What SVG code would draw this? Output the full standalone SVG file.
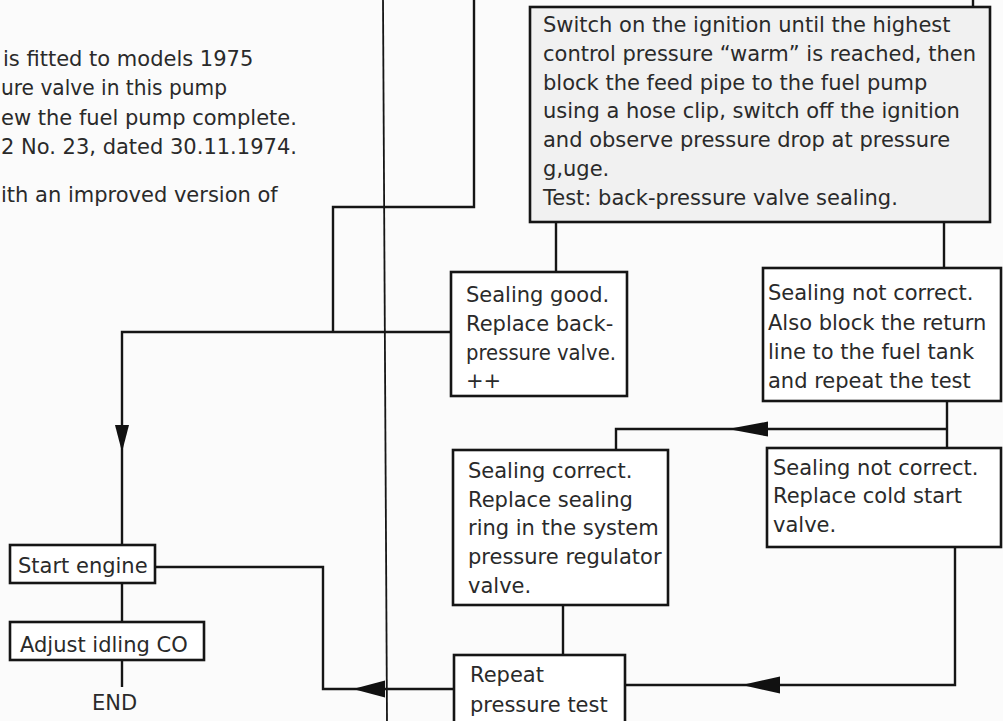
<svg xmlns="http://www.w3.org/2000/svg" width="1003" height="721" viewBox="0 0 1003 721">
<style>
  text { font-family: "DejaVu Sans", "Liberation Sans", sans-serif; font-size: 21px; fill: #2a2a2a; }
  .box { fill: #ffffff; stroke: #151515; stroke-width: 2.6; }
  .big { fill: #f1f1f1; }
  .ln { fill: none; stroke: #151515; stroke-width: 2.4; stroke-linejoin: miter; }
  .thin { fill: none; stroke: #151515; stroke-width: 1.8; }
  .arr { fill: #111111; stroke: none; }
</style>
<rect x="0" y="0" width="1003" height="721" fill="#fbfbfb"/>

<g id="notes">
  <text x="3" y="66">is fitted to models 1975</text>
  <text x="1" y="95" textLength="226" lengthAdjust="spacingAndGlyphs">ure valve in this pump</text>
  <text x="1" y="125">ew the fuel pump complete.</text>
  <text x="1" y="154">2 No. 23, dated 30.11.1974.</text>
  <text x="1" y="202">ith an improved version of</text>
</g>

<g id="connectors">
  <path class="thin" d="M383,0 L387,721"/>
  <path class="ln" d="M474,0 L474,207 L333,207 L333,332"/>
  <path class="ln" d="M122,545 L122,332 L451,332"/>
  <polygon class="arr" points="115,425 129,425 122,452"/>
  <path class="ln" d="M973,0 L973,7"/>
  <path class="ln" d="M556,222 L556,272"/>
  <path class="ln" d="M944,222 L944,268"/>
  <path class="ln" d="M947,401 L947,448"/>
  <path class="ln" d="M947,429 L616,429 L616,450"/>
  <polygon class="arr" points="728,429 768,421.5 768,436.5"/>
  <path class="ln" d="M955,547 L955,685 L625,685"/>
  <polygon class="arr" points="742,685 780,676.5 780,693.5"/>
  <path class="ln" d="M563,605 L563,655"/>
  <path class="ln" d="M155,567 L323,567 L323,689 L454,689"/>
  <polygon class="arr" points="353,689 385,680.5 385,697.5"/>
  <path class="ln" d="M122,583 L122,622"/>
  <path class="ln" d="M122,660 L122,687"/>
</g>

<g id="node-ignition-test">
  <rect class="box big" x="530" y="7" width="460" height="215"/>
  <text x="543" y="32">Switch on the ignition until the highest</text>
  <text x="543" y="61">control pressure “warm” is reached, then</text>
  <text x="543" y="90">block the feed pipe to the fuel pump</text>
  <text x="543" y="118">using a hose clip, switch off the ignition</text>
  <text x="543" y="147">and observe pressure drop at pressure</text>
  <text x="543" y="176">g‚uge.</text>
  <text x="543" y="205">Test: back-pressure valve sealing.</text>
</g>

<g id="node-sealing-good">
  <rect class="box" x="451" y="272" width="176" height="124"/>
  <text x="466" y="302">Sealing good.</text>
  <text x="466" y="331">Replace back-</text>
  <text x="466" y="360" textLength="150" lengthAdjust="spacingAndGlyphs">pressure valve.</text>
  <text x="466" y="388">++</text>
</g>

<g id="node-sealing-not-correct-1">
  <rect class="box" x="763" y="268" width="238" height="133"/>
  <text x="768" y="300">Sealing not correct.</text>
  <text x="768" y="330">Also block the return</text>
  <text x="768" y="359">line to the fuel tank</text>
  <text x="768" y="388">and repeat the test</text>
</g>

<g id="node-sealing-correct">
  <rect class="box" x="453" y="450" width="215" height="155"/>
  <text x="468" y="478">Sealing correct.</text>
  <text x="468" y="507">Replace sealing</text>
  <text x="468" y="535">ring in the system</text>
  <text x="468" y="564">pressure regulator</text>
  <text x="468" y="593">valve.</text>
</g>

<g id="node-cold-start">
  <rect class="box" x="767" y="448" width="234" height="99"/>
  <text x="773" y="475">Sealing not correct.</text>
  <text x="773" y="503">Replace cold start</text>
  <text x="773" y="532">valve.</text>
</g>

<g id="node-repeat">
  <rect class="box" x="454" y="655" width="171" height="80"/>
  <text x="470" y="682">Repeat</text>
  <text x="470" y="712">pressure test</text>
</g>

<g id="node-start-engine">
  <rect class="box" x="10" y="545" width="145" height="38"/>
  <text x="18" y="573">Start engine</text>
</g>

<g id="node-adjust-co">
  <rect class="box" x="10" y="622" width="194" height="38"/>
  <text x="20" y="652">Adjust idling CO</text>
</g>

<g id="node-end">
  <text x="92" y="710">END</text>
</g>
</svg>
